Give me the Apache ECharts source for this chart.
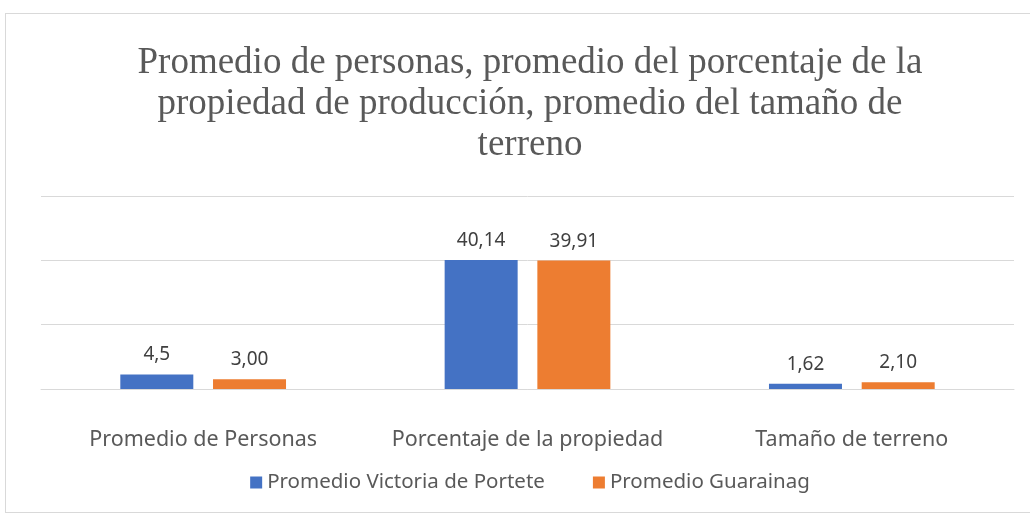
<!DOCTYPE html>
<html>
<head>
<meta charset="utf-8">
<script src="https://cdn.jsdelivr.net/npm/echarts@6/dist/echarts.min.js"></script>
<style>
  html, body { margin: 0; padding: 0; background: #fff; overflow: hidden; }
  #chart {
    position: absolute;
    left: 5px;
    top: 13px;
    width: 1050px;
    height: 500px;
    border: 1px solid #d9d9d9;
    box-sizing: border-box;
  }
</style>
</head>
<body>
<div id="chart"></div>
<script>
const titleText = "Promedio de personas, promedio del porcentaje de la\npropiedad de producción, promedio del tamaño de\nterreno";
const categories = ["Promedio de Personas", "Porcentaje de la propiedad", "Tamaño de terreno"];
const seriesNames = ["Promedio Victoria de Portete", "Promedio Guarainag"];
const victoriaValues = [4.5, 40.14, 1.62];
const guarainagValues = [3.0, 39.91, 2.1];
const victoriaLabels = ["4,5", "40,14", "1,62"];
const guarainagLabels = ["3,00", "39,91", "2,10"];

const chart = echarts.init(document.getElementById("chart"));

const labelFont = "'Noto Sans', sans-serif";

function barSeries(name, values, labels, color) {
  return {
    name: name,
    type: "bar",
    data: values,
    barWidth: 73,
    barGap: "27%",
    itemStyle: { color: color },
    label: {
      show: true,
      position: "top",
      distance: 10,
      color: "#404040",
      fontSize: 19,
      fontFamily: labelFont,
      formatter: function (p) {
        return labels[p.dataIndex];
      }
    }
  };
}

chart.setOption({
  animation: false,
  title: {
    text: titleText,
    left: "center",
    top: 24,
    textStyle: {
      fontFamily: "'Liberation Serif', serif",
      fontSize: 37,
      fontWeight: "normal",
      color: "#595959",
      lineHeight: 41
    }
  },
  legend: {
    data: seriesNames,
    bottom: 14,
    left: "center",
    icon: "rect",
    itemWidth: 12,
    itemHeight: 12,
    itemGap: 48,
    textStyle: {
      fontFamily: labelFont,
      fontSize: 20.5,
      color: "#595959"
    }
  },
  grid: {
    left: 35,
    right: 40,
    top: 182,
    bottom: 123
  },
  xAxis: {
    type: "category",
    data: categories,
    axisLine: { lineStyle: { color: "#d9d9d9", width: 1 } },
    axisTick: { show: false },
    axisLabel: {
      interval: 0,
      hideOverlap: false,
      margin: 40,
      fontFamily: labelFont,
      fontSize: 21.5,
      color: "#595959"
    }
  },
  yAxis: {
    type: "value",
    min: 0,
    max: 60,
    interval: 20,
    axisLabel: { show: false },
    axisLine: { show: false },
    axisTick: { show: false },
    splitLine: { lineStyle: { color: "#d9d9d9", width: 1 } }
  },
  series: [
    barSeries(seriesNames[0], victoriaValues, victoriaLabels, "#4472c4"),
    barSeries(seriesNames[1], guarainagValues, guarainagLabels, "#ed7d31")
  ]
});
</script>
</body>
</html>
